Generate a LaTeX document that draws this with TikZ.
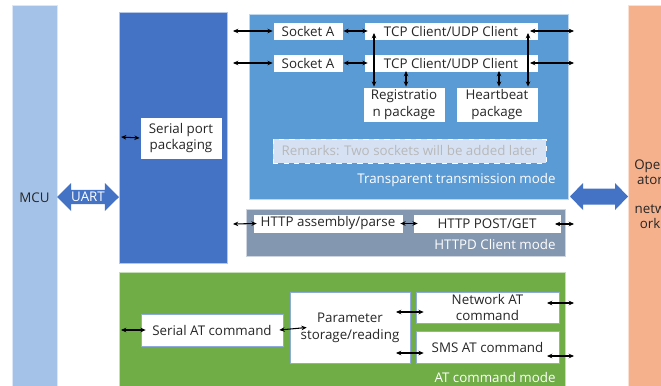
\documentclass[tikz,border=0pt]{standalone}
\usepackage{fontspec}
\setmainfont{Open Sans}
\usetikzlibrary{arrows.meta,shapes.arrows}
\definecolor{mcublue}{RGB}{164,194,232}
\definecolor{serialblue}{RGB}{68,114,196}
\definecolor{transblue}{RGB}{91,155,213}
\definecolor{httpdgray}{RGB}{132,151,176}
\definecolor{atgreen}{RGB}{112,173,71}
\definecolor{operorange}{RGB}{245,176,140}
\definecolor{remarkfill}{RGB}{214,226,243}
\definecolor{textdark}{RGB}{38,38,38}
\tikzset{
  panel/.style={inner sep=0pt, draw=white!60!#1, line width=0.4pt, fill=#1},
  whitebox/.style={fill=white, draw=#1, line width=0.4pt, inner sep=0pt, align=center,
    text=textdark, font=\fontsize{7.6}{9.6}\selectfont},
  modelabel/.style={text=white, font=\fontsize{7.6}{9.6}\selectfont, anchor=east, inner sep=0pt},
  bigarrow/.style={double arrow, fill=serialblue, draw=none, inner sep=0pt,
    double arrow head extend=0.1cm, text=white, font=\fontsize{7.6}{9.6}\selectfont},
  bigarrowfill/.style={fill=serialblue, draw=none},
  conn/.style={{Stealth[length=3pt,width=2.6pt]}-{Stealth[length=3pt,width=2.6pt]}, line width=0.6pt, black},
}
\begin{document}
\begin{tikzpicture}[x=0.02cm, y=-0.02cm]
\useasboundingbox (0,0) rectangle (661,385);
\clip (0,0) rectangle (661,385);
\node[panel=mcublue, minimum width=0.9cm, minimum height=7.7cm, text=textdark,
  font=\fontsize{7.6}{9.6}\selectfont] (mcu) at (34.5,197.5) {MCU};
\node[panel=operorange, minimum width=0.88cm, minimum height=7.7cm] (oper) at (650,197.5) {};
\node[text=textdark, align=center, font=\fontsize{7.6}{8.4}\selectfont] (operlbl) at (650,194)
  {Oper\\ator\\ \\netw\\ork};
\node[panel=serialblue, minimum width=2.16cm, minimum height=5.02cm] (serial) at (173,137.5) {};
\node[whitebox=serialblue, minimum width=1.64cm, minimum height=0.84cm] (spp) at (181,138)
  {Serial port\\packaging};
\node[bigarrow, minimum width=0.56cm, minimum height=1.24cm] (uart) at (88,197) {UART};
\node[panel=transblue, minimum width=6.38cm, minimum height=3.7cm] (trans) at (408.5,106.5) {};
\node[whitebox=transblue, minimum width=1.4cm, minimum height=0.36cm] (sockA1) at (308,31) {Socket A};
\node[whitebox=transblue, minimum width=1.4cm, minimum height=0.36cm] (sockA2) at (308,63) {Socket A};
\node[whitebox=transblue, minimum width=3.48cm, minimum height=0.36cm] (tcp1) at (451,31) {TCP Client/UDP Client};
\node[whitebox=transblue, minimum width=3.48cm, minimum height=0.36cm] (tcp2) at (451,63) {TCP Client/UDP Client};
\node[whitebox=transblue, minimum width=1.64cm, minimum height=0.7cm] (reg) at (404,104.5) {Registratio\\n package};
\node[whitebox=transblue, minimum width=1.64cm, minimum height=0.7cm] (heart) at (497,104.5) {Heartbeat\\package};
\node[whitebox=white, fill=remarkfill, dashed, text=black!28, minimum width=5.46cm,
  minimum height=0.48cm] (remarks) at (409.5,151) {Remarks: Two sockets will be added later};
\node[modelabel] (translbl) at (556,180) {Transparent transmission mode};
\fill[bigarrowfill] (570,196.5) -- (583,183) -- (583,188.5) -- (615,188.5) -- (615,183)
  -- (628,196.5) -- (615,210) -- (615,204.5) -- (583,204.5) -- (583,210) -- cycle;
\node[panel=httpdgray, minimum width=6.38cm, minimum height=0.94cm] (httpd) at (405.5,232.5) {};
\node[whitebox=httpdgray, minimum width=3.0cm, minimum height=0.38cm] (hap) at (328,223.5) {HTTP assembly/parse};
\node[whitebox=httpdgray, minimum width=2.96cm, minimum height=0.38cm] (hpg) at (487,223.5) {HTTP POST/GET};
\node[modelabel] (httpdlbl) at (556,244) {HTTPD Client mode};
\node[panel=atgreen, minimum width=8.92cm, minimum height=2.4cm] (at) at (342,332) {};
\node[whitebox=serialblue!60, minimum width=2.84cm, minimum height=0.64cm] (sat) at (212,330) {Serial AT command};
\node[whitebox=serialblue!60, minimum width=2.4cm, minimum height=1.42cm] (param) at (350,327.5) {Parameter\\storage/reading};
\node[whitebox=serialblue!60, minimum width=2.86cm, minimum height=0.62cm] (net) at (487.5,307.5) {Network AT\\command};
\node[whitebox=serialblue!60, minimum width=2.86cm, minimum height=0.64cm] (sms) at (487.5,347) {SMS AT command};
\node[modelabel] (atlbl) at (556,377) {AT command mode};
\coordinate (sppin) at (121,137);
\coordinate (s1in) at (233,31);
\coordinate (s2in) at (233,63);
\coordinate (t1out) at (574,31);
\coordinate (t2out) at (574,63);
\coordinate (t1in) at (530,31);
\coordinate (t2in) at (530,63);
\coordinate (v1) at (374,33);
\coordinate (v2) at (406,71);
\coordinate (v3) at (528,33);
\coordinate (v4) at (499,71);
\coordinate (hin) at (233,224);
\coordinate (hout) at (574,224);
\coordinate (hpgin) at (555,224);
\coordinate (satin) at (121,330);
\coordinate (pnet) at (396,312);
\coordinate (psms) at (396,353);
\coordinate (netin) at (547,303);
\coordinate (netout) at (574,303);
\coordinate (smsin) at (547,356);
\coordinate (smsout) at (574,356);
\draw[conn] (sppin) -- (spp.west);
\draw[conn] (s1in) -- (sockA1.west);
\draw[conn] (s2in) -- (sockA2.west);
\draw[conn] (sockA1.east) -- ([xshift=0.08cm]tcp1.west);
\draw[conn] (sockA2.east) -- ([xshift=0.08cm]tcp2.west);
\draw[conn] (t1in) -- (t1out);
\draw[conn] (t2in) -- (t2out);
\draw[conn] (v1) -- (v1 |- reg.north);
\draw[conn] (v2) -- (v2 |- reg.north);
\draw[conn] (v3) -- (v3 |- heart.north);
\draw[conn] (v4) -- (v4 |- heart.north);
\draw[conn] (hin) -- ([xshift=0.08cm]hap.west);
\draw[conn] ([xshift=-0.06cm]hap.east) -- ([xshift=0.1cm]hpg.west);
\draw[conn] (hpgin) -- (hout);
\draw[conn] (satin) -- ([xshift=0.1cm]sat.west);
\draw[conn] ([xshift=-0.08cm]sat.east) -- ([xshift=0.34cm]param.west);
\draw[conn] (pnet) -- (pnet -| net.west) -- ++(8,0);
\draw[conn] (psms) -- (psms -| sms.west) -- ++(8,0);
\draw[conn] (netin) -- (netout);
\draw[conn] (smsin) -- (smsout);
\end{tikzpicture}
\end{document}
